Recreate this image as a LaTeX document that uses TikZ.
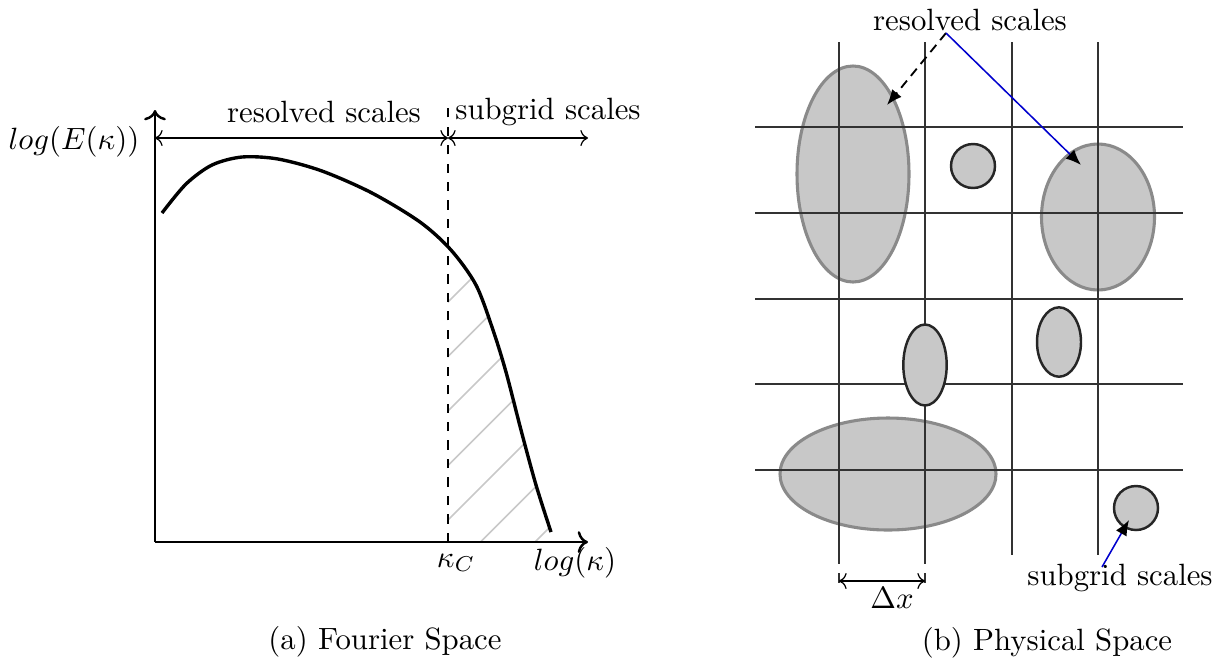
\documentclass[tikz,border=0pt]{standalone}
\usetikzlibrary{arrows.meta}
\definecolor{blobfill}{RGB}{200,200,200}
\definecolor{blobedge}{RGB}{138,138,138}
\definecolor{gridline}{RGB}{50,50,50}
\definecolor{hatchgray}{RGB}{200,200,200}
\definecolor{pointerblue}{RGB}{0,0,205}
\begin{document}
\begin{tikzpicture}[x=0.325pt,y=-0.325pt,
  gridln/.style={gridline,line width=0.6pt},
  bigblob/.style={fill=blobfill,draw=blobedge,line width=1pt},
  smallblob/.style={fill=blobfill,draw=black!85,line width=0.8pt},
  pointer/.style={-{Latex[length=5pt,width=4pt,color=black]}},
  span/.style={<->,line width=0.4pt}]
\useasboundingbox (0,0) rectangle (1224,660);

% (a) energy spectrum
\begin{scope}
\clip (448,100) rectangle (700,542);
\clip plot[smooth] coordinates {(162,213) (186,184) (212,165) (242,157) (278,159) (322,171) (372,193) (420,222) (451,250) (476,285) (493,330) (506,372) (521,430) (536,485) (551,532)} -- (556,542) -- (155,542) -- cycle;
\draw[hatchgray,line width=0.5pt] (208,542) -- (600,150);
\draw[hatchgray,line width=0.5pt] (262.5,542) -- (654.5,150);
\draw[hatchgray,line width=0.5pt] (317,542) -- (709,150);
\draw[hatchgray,line width=0.5pt] (371.5,542) -- (763.5,150);
\draw[hatchgray,line width=0.5pt] (426,542) -- (818,150);
\draw[hatchgray,line width=0.5pt] (480.5,542) -- (872.5,150);
\draw[hatchgray,line width=0.5pt] (535,542) -- (927,150);
\end{scope}

\coordinate (origin) at (155,542);
\coordinate (ytop) at (155,110);
\coordinate (xend) at (588,542);
\coordinate (cut) at (448,542);
\coordinate (cuttop) at (448,104);
\draw[->,line width=0.8pt] (origin) -- (ytop);
\draw[->,line width=0.8pt] (origin) -- (xend);
\draw[dashed,line width=0.5pt] (cut) -- (cuttop);

\draw[line width=1.1pt]
plot[smooth] coordinates {(162,213) (186,184) (212,165) (242,157) (278,159) (322,171) (372,193) (420,222) (451,250) (476,285) (493,330) (506,372) (521,430) (536,485) (551,532)};

\coordinate (spanl) at (155,138);
\coordinate (spanm) at (448,138);
\coordinate (spanr) at (588,138);
\draw[span] (spanl) -- (spanm);
\draw[span] (spanm) -- (spanr);

\node (ylab) at (74,142) {$log(E(\kappa))$};
\node (xlab) at (575,563) {$log(\kappa)$};
\node (kc) at (456,563) {$\kappa_C$};
\node (labres) at (324,112) {resolved scales};
\node (labsub) at (548,112) {subgrid scales};
\node (capa) at (385,642) {(a) Fourier Space};

% (b) filtered field
\draw[bigblob] (853,174) ellipse [x radius=56, y radius=108];
\draw[bigblob] (1098,217) ellipse [x radius=56.5, y radius=73];
\draw[bigblob] (888,474) ellipse [x radius=108, y radius=56];

\draw[gridln] (755,127) -- (1183,127);
\draw[gridln] (755,213) -- (1183,213);
\draw[gridln] (755,299) -- (1183,299);
\draw[gridln] (755,384) -- (1183,384);
\draw[gridln] (755,470) -- (1183,470);
\draw[gridln] (839,42) -- (839,555);
\draw[gridln] (925,42) -- (925,555);
\draw[gridln] (1012,42) -- (1012,555);
\draw[gridln] (1098,42) -- (1098,555);
\draw[gridln,dashed] (839,555) -- (839,588);
\draw[gridln,dashed] (925,555) -- (925,588);

\draw[smallblob] (973,166) circle [radius=22];
\draw[smallblob] (925,365) ellipse [x radius=21.7, y radius=40.5];
\draw[smallblob] (1059,342) ellipse [x radius=22, y radius=34.7];
\draw[smallblob] (1136,508) circle [radius=22];

\coordinate (dxl) at (839,581);
\coordinate (dxr) at (925,581);
\draw[span] (dxl) -- (dxr);
\node (dxlab) at (892,598) {$\Delta x$};

\node (rres) at (970,20) {resolved scales};
\node (rsub) at (1120,578) {subgrid scales};
\coordinate (resfoot) at (946,33);
\coordinate (subfoot) at (1102,567);
\coordinate (bigtip) at (887,105);
\coordinate (ovaltip) at (1081,165);
\coordinate (dottip) at (1129,520);
\draw[pointer,densely dashed,line width=0.6pt] (resfoot) -- (bigtip);
\draw[pointer,pointerblue,line width=0.5pt] (resfoot) -- (ovaltip);
\draw[pointer,pointerblue,line width=0.5pt] (subfoot) -- (dottip);
\node (capb) at (1047,643) {(b) Physical Space};
\end{tikzpicture}
\end{document}
